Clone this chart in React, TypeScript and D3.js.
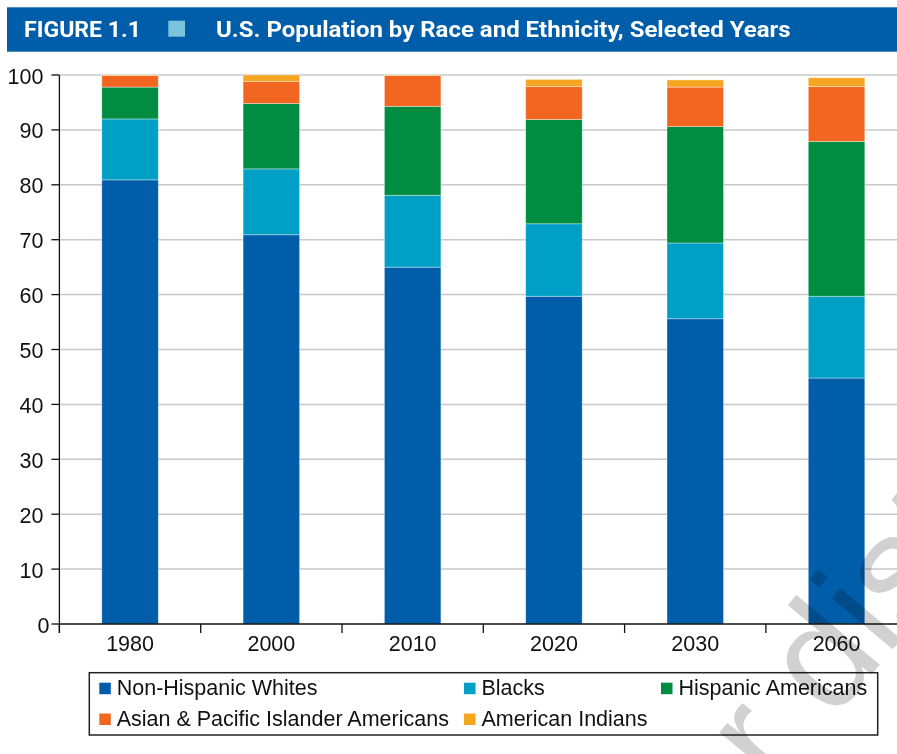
import React from "react";
import * as d3 from "d3";

const years = ["1980", "2000", "2010", "2020", "2030", "2060"];
const seriesKeys = ["whites", "blacks", "hispanic", "asian", "amIndian"];
const seriesLabels = [
  "Non-Hispanic Whites",
  "Blacks",
  "Hispanic Americans",
  "Asian & Pacific Islander Americans",
  "American Indians",
];
const whites = [80.9, 70.9, 65.0, 59.7, 55.6, 44.8];
const blacks = [11.1, 12.0, 13.1, 13.2, 13.8, 14.9];
const hispanic = [5.8, 11.9, 16.2, 19.0, 21.2, 28.2];
const asian = [2.1, 4.05, 5.6, 6.0, 7.2, 10.0];
const amIndian = [0.1, 1.15, 0.1, 1.3, 1.3, 1.6];
const yTicks = [0, 10, 20, 30, 40, 50, 60, 70, 80, 90, 100];

const colors = ["#005DAA", "#00A0C6", "#008D41", "#F26622", "#F6A521"];

const W = 897;
const H = 754;

export default function App() {
  const rows = years.map((y, i) => ({
    year: y,
    whites: whites[i],
    blacks: blacks[i],
    hispanic: hispanic[i],
    asian: asian[i],
    amIndian: amIndian[i],
  }));
  const stacked = d3.stack<any>().keys(seriesKeys)(rows);

  const x0 = 59.4;
  const step = 141.3;
  const x = d3
    .scaleBand<string>()
    .domain(years)
    .range([x0, x0 + step * years.length])
    .paddingInner(0.6)
    .paddingOuter(0.3);
  const y = d3.scaleLinear().domain([0, 100]).range([624, 75]);

  const font = "'Liberation Sans', Arial, Helvetica, sans-serif";
  const fs = 21.5;

  const legendItems = [
    { i: 0, x: 99.3, y: 682.7 },
    { i: 1, x: 464, y: 682.7 },
    { i: 2, x: 661, y: 682.7 },
    { i: 3, x: 99.3, y: 713.5 },
    { i: 4, x: 464, y: 713.5 },
  ];

  return (
    <div style={{ position: "absolute", left: 0, top: 0 }}>
      <svg width={W} height={H} style={{ display: "block", background: "#fff" }}>
        {/* Header */}
        <rect x={7} y={7.3} width={W - 7} height={44.4} fill="#005DAA" />
        <text
          x={24}
          y={36.7}
          fill="#fff"
          fontFamily="Roboto, 'DejaVu Sans', sans-serif"
          fontWeight={700}
          fontSize={22.5}
          textLength={117}
          lengthAdjust="spacingAndGlyphs"
        >
          FIGURE 1.1
        </text>
        <rect x={168.3} y={20.7} width={16.7} height={16} fill="#7CC4DB" />
        <text
          x={216}
          y={36.7}
          fill="#fff"
          fontFamily="Roboto, 'DejaVu Sans', sans-serif"
          fontWeight={700}
          fontSize={22.5}
          textLength={574.7}
          lengthAdjust="spacingAndGlyphs"
        >
          U.S. Population by Race and Ethnicity, Selected Years
        </text>

        {/* Gridlines */}
        {yTicks
          .filter((t) => t > 0)
          .map((t) => (
            <line
              key={"g" + t}
              x1={x0}
              x2={W}
              y1={y(t)}
              y2={y(t)}
              stroke="#c8c8c8"
              strokeWidth={1.5}
            />
          ))}

        {/* Bars */}
        {stacked.map((s, si) => (
          <g key={s.key} fill={colors[si]}>
            {s.map((d: any, i: number) =>
              d[1] - d[0] > 0 ? (
                <rect
                  key={i}
                  x={x(years[i])!}
                  width={x.bandwidth()}
                  y={y(d[1])}
                  height={y(d[0]) - y(d[1])}
                  stroke="rgba(255,255,255,0.45)"
                  strokeWidth={0.8}
                />
              ) : null
            )}
          </g>
        ))}

        {/* Y axis */}
        <line x1={x0} x2={x0} y1={75} y2={633} stroke="#111" strokeWidth={1.3} />
        {yTicks.map((t) => (
          <g key={"yt" + t}>
            <line x1={x0 - 8} x2={x0} y1={y(t)} y2={y(t)} stroke="#111" strokeWidth={1.3} />
            <text
              x={t === 0 ? x0 - 10 : x0 - 16}
              y={y(t) + 8.5}
              textAnchor="end"
              fontFamily={font}
              fontSize={fs}
              fill="#111"
            >
              {t}
            </text>
          </g>
        ))}

        {/* X axis */}
        <line x1={x0} x2={W} y1={624} y2={624} stroke="#111" strokeWidth={1.3} />
        {years.map((yr, i) => (
          <g key={"xt" + yr}>
            <line
              x1={x0 + step * i}
              x2={x0 + step * i}
              y1={624}
              y2={633}
              stroke="#111"
              strokeWidth={1.3}
            />
            <text
              x={x(yr)! + x.bandwidth() / 2}
              y={651}
              textAnchor="middle"
              fontFamily={font}
              fontSize={fs}
              fill="#111"
            >
              {yr}
            </text>
          </g>
        ))}

        {/* Legend */}
        <rect x={89.3} y={672.7} width={788.4} height={62.3} fill="#fff" stroke="#222" strokeWidth={1.5} />
        {legendItems.map((it) => (
          <g key={"lg" + it.i}>
            <rect x={it.x} y={it.y} width={11.5} height={11.5} fill={colors[it.i]} />
            <text
              x={it.x + 17.4}
              y={it.y + 12}
              fontFamily={font}
              fontSize={fs}
              fill="#111"
            >
              {seriesLabels[it.i]}
            </text>
          </g>
        ))}

        {/* Watermark */}
        <text
          x={720}
          y={855}
          transform="rotate(-50 720 855)"
          fontFamily={font}
          fontSize={150}
          fill="#9a9a9a"
          fillOpacity={0.45}
          style={{ mixBlendMode: "multiply" }}
        >
          or distribute
        </text>
      </svg>
    </div>
  );
}
